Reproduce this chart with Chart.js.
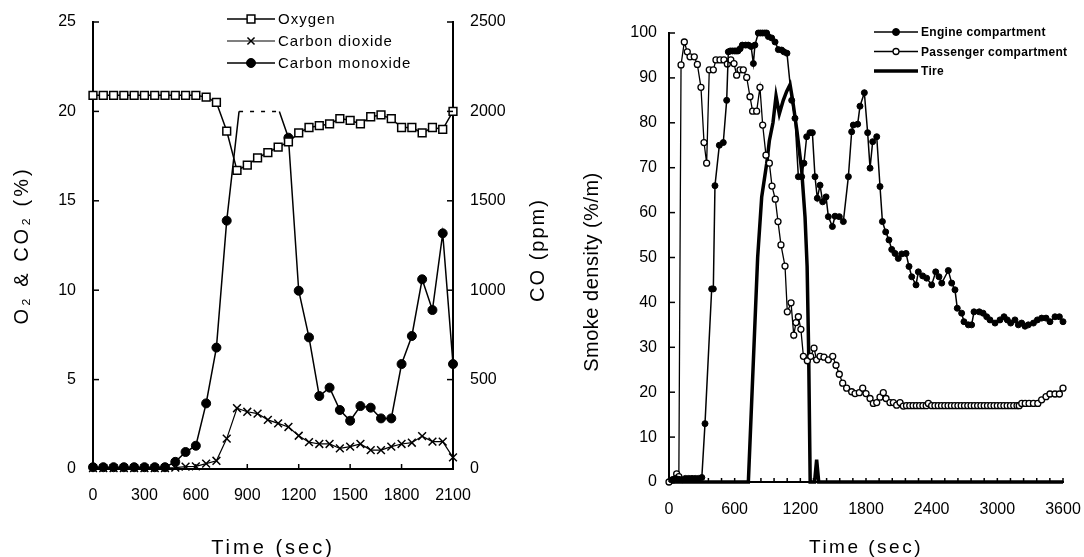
<!DOCTYPE html>
<html>
<head>
<meta charset="utf-8">
<script src="https://cdn.jsdelivr.net/npm/chart.js@4.4.1/dist/chart.umd.min.js"></script>
<style>
    body { margin: 0; background: #fff; }
    canvas { position: absolute; top: 0; }
    #gasChart { left: 0; }
    #smokeChart { left: 560px; }
</style>
</head>
<body>
<canvas id="gasChart" width="560" height="557"></canvas>
<canvas id="smokeChart" width="524" height="557"></canvas>
<script>
// left panel - gas concentrations, one reading per minute
const gasTime = [0, 60, 120, 180, 240, 300, 360, 420, 480, 540, 600, 660, 720, 780, 840, 900, 960, 1020,
    1080, 1140, 1200, 1260, 1320, 1380, 1440, 1500, 1560, 1620, 1680, 1740, 1800, 1860, 1920, 1980, 2040, 2100];
const oxygen = [20.9, 20.9, 20.9, 20.9, 20.9, 20.9, 20.9, 20.9, 20.9, 20.9, 20.9, 20.8, 20.5, 18.9, 16.7, 17.0, 17.4, 17.7,
    18.0, 18.3, 18.8, 19.1, 19.2, 19.3, 19.6, 19.5, 19.3, 19.7, 19.8, 19.6, 19.1, 19.1, 18.8, 19.1, 19.0, 20.0];
const carbonDioxide = [0.05, 0.05, 0.05, 0.05, 0.05, 0.05, 0.05, 0.05, 0.08, 0.13, 0.15, 0.3, 0.46, 1.7, 3.4, 3.2, 3.1, 2.75,
    2.55, 2.35, 1.86, 1.5, 1.4, 1.4, 1.15, 1.25, 1.4, 1.06, 1.06, 1.25, 1.4, 1.47, 1.84, 1.53, 1.53, 0.65];
// CO went over the analyser range between ~850 and ~1090 s
const coTime = [0, 60, 120, 180, 240, 300, 360, 420, 480, 540, 600, 660, 720, 780, 852, 1087, 1140,
    1200, 1260, 1320, 1380, 1440, 1500, 1560, 1620, 1680, 1740, 1800, 1860, 1920, 1980, 2040, 2100];
const carbonMonoxide = [10, 10, 10, 10, 10, 10, 10, 10, 40, 95, 130, 367, 679, 1389, 2000, 2000, 1853,
    997, 736, 408, 455, 330, 270, 352, 343, 283, 283, 587, 744, 1061, 889, 1318, 587];
const coLimit = 2000;

// right panel - smoke density
const engineTime = [30, 60, 90, 120, 150, 180, 210, 240, 270, 300, 329, 390, 405, 420, 460, 496, 527, 542, 560, 580,
    600, 615, 630, 650, 670, 700, 725, 750, 771, 785, 816, 835, 855, 875, 892, 908, 938, 969, 999, 1029,
    1050, 1078, 1121, 1151, 1182, 1212, 1233, 1258, 1288, 1310, 1334, 1355, 1380, 1404, 1435, 1456, 1493, 1517, 1556, 1593,
    1639, 1669, 1684, 1724, 1745, 1785, 1815, 1837, 1861, 1898, 1928, 1950, 1980, 2010, 2035, 2065, 2095, 2126, 2166, 2193,
    2218, 2257, 2278, 2318, 2354, 2400, 2437, 2467, 2492, 2552, 2583, 2613, 2634, 2674, 2695, 2735, 2765, 2787, 2835, 2870,
    2903, 2933, 2979, 3024, 3061, 3091, 3122, 3161, 3192, 3222, 3253, 3283, 3330, 3366, 3405, 3445, 3481, 3527, 3567, 3600];
const engineSmoke = [0.5, 0.8, 0.6, 0.5, 0.8, 0.8, 0.8, 0.8, 0.8, 1, 13, 43, 43, 66, 75, 75.6, 85, 95.8, 96, 96,
    96, 96, 96, 96.5, 97.3, 97.3, 97.3, 97, 93.2, 97.3, 100, 100, 100, 100, 100, 99.2, 98.9, 98, 96.3, 96.2,
    95.8, 95.5, 85, 81, 68, 68, 71, 76.9, 77.8, 77.8, 68, 63.2, 66.1, 62.4, 63.5, 59.1, 56.9, 59.2, 59.1, 58,
    68, 78, 79.5, 79.7, 83.7, 86.7, 77.8, 69.9, 75.8, 76.9, 65.8, 58, 55.7, 53.9, 51.8, 50.9, 49.8, 50.8, 50.9, 48,
    45.7, 43.9, 46.8, 45.9, 45.4, 43.9, 46.8, 45.7, 44.3, 47.1, 44.3, 42.8, 38.7, 37.6, 35.7, 35, 35, 37.9, 37.9, 37.6,
    36.8, 36.1, 35.4, 36.1, 36.8, 36.1, 35.4, 36.1, 35, 35.4, 34.7, 35, 35.4, 36.1, 36.5, 36.5, 35.7, 36.8, 36.8, 35.7];
const passengerTime = [0, 40, 70, 90, 110, 140, 167, 192, 231, 259, 292, 320, 344, 368, 405, 429, 466, 502, 533, 565,
    594, 618, 649, 679, 710, 740, 764, 801, 831, 856, 886, 917, 941, 971, 996, 1023, 1060, 1081, 1115, 1140,
    1160, 1182, 1205, 1228, 1264, 1295, 1325, 1349, 1380, 1416, 1456, 1496, 1526, 1556, 1587, 1623, 1669, 1700, 1739, 1770,
    1800, 1837, 1867, 1898, 1928, 1958, 1983, 2019, 2050, 2080, 2111, 2141, 2170, 2200, 2230, 2260, 2290, 2320, 2350, 2370,
    2400, 2430, 2460, 2490, 2520, 2550, 2580, 2610, 2640, 2670, 2700, 2730, 2760, 2790, 2820, 2850, 2880, 2910, 2940, 2970,
    3000, 3030, 3060, 3090, 3120, 3150, 3180, 3200, 3223, 3255, 3290, 3330, 3370, 3405, 3445, 3481, 3527, 3567, 3600];
const passengerSmoke = [0, 0.5, 1.8, 1.2, 92.9, 98, 95.8, 94.7, 94.7, 93, 87.9, 75.6, 71, 91.8, 91.8, 94, 94, 94, 93.1, 94,
    93.2, 90.6, 91.8, 91.8, 90.1, 85.8, 82.6, 82.6, 87.9, 79.5, 72.8, 71, 65.9, 63, 58, 52.8, 48.1, 37.9, 39.9, 32.7,
    35.5, 36.8, 34, 28, 27, 28, 29.8, 27.2, 28, 27.8, 27.2, 28, 26, 24, 22, 20.9, 20.1, 19.7, 19.9, 20.9,
    19.7, 18.6, 17.5, 17.7, 18.9, 19.9, 18.6, 17.7, 17.7, 17.1, 17.7, 16.9, 17, 17, 17, 17, 17, 17, 17, 17.5,
    17, 17, 17, 17, 17, 17, 17, 17, 17, 17, 17, 17, 17, 17, 17, 17, 17, 17, 17, 17,
    17, 17, 17, 17, 17, 17, 17, 17, 17.5, 17.5, 17.5, 17.5, 17.5, 18.3, 19, 19.6, 19.6, 19.6, 20.9];
const tireTime = [0, 725, 810, 847, 893, 917, 950, 978, 1008, 1044, 1075, 1106, 1130, 1170, 1212, 1243, 1262, 1276, 1290,
    1330, 1349, 1368, 3600];
const tireSmoke = [0, 0, 50, 63.5, 71, 76, 80, 86, 82, 85, 87, 88.5, 85, 78, 69.5, 59, 48, 29, 0,
    0, 5, 0, 0];

const FONT = "'Liberation Sans', Arial, Helvetica, sans-serif";
Chart.defaults.font.family = FONT;
Chart.defaults.color = '#000';

const toPoints = (xs, ys) => xs.map((x, i) => ({ x: x, y: ys[i] }));

// short tick marks pointing into the plot, like the printed figure
const innerTicks = (lengths) => ({
    id: 'innerTicks',
    afterDraw(chart) {
        const { ctx, chartArea } = chart;
        ctx.save();
        ctx.strokeStyle = '#000';
        ctx.lineWidth = 1.5;
        Object.keys(lengths).forEach(id => {
            const scale = chart.scales[id];
            const len = lengths[id];
            scale.ticks.forEach((t, i) => {
                const p = scale.getPixelForTick(i);
                ctx.beginPath();
                if (scale.isHorizontal()) {
                    ctx.moveTo(p, chartArea.bottom);
                    ctx.lineTo(p, chartArea.bottom - len);
                } else if (scale.position === 'left') {
                    ctx.moveTo(chartArea.left, p);
                    ctx.lineTo(chartArea.left + len, p);
                } else {
                    ctx.moveTo(chartArea.right, p);
                    ctx.lineTo(chartArea.right - len, p);
                }
                ctx.stroke();
            });
        });
        ctx.restore();
    }
});

// axis titles (the right one reads bottom to top, chart.js would turn it the other way)
const axisTitles = (items) => ({
    id: 'axisTitles',
    afterDraw(chart) {
        const { ctx, chartArea } = chart;
        items.forEach(it => {
            const x = it.x === 'mid' ? (chartArea.left + chartArea.right) / 2 : it.x;
            const y = it.y === 'mid' ? (chartArea.top + chartArea.bottom) / 2 : it.y;
            ctx.save();
            ctx.translate(x, y);
            if (it.rotate) ctx.rotate(-Math.PI / 2);
            ctx.font = it.font;
            ctx.letterSpacing = it.spacing + 'px';
            ctx.fillStyle = '#000';
            ctx.textAlign = 'center';
            ctx.textBaseline = 'middle';
            ctx.fillText(it.text, 0, 0);
            ctx.restore();
        });
    }
});

// stacked legend inside the plot
const stackedLegend = (o) => ({
    id: 'stackedLegend',
    afterDraw(chart) {
        const { ctx } = chart;
        chart.data.datasets.forEach((ds, i) => {
            const y = o.y + i * o.row;
            ctx.save();
            ctx.strokeStyle = '#000';
            ctx.lineWidth = ds.borderWidth;
            ctx.beginPath();
            ctx.moveTo(o.x, y);
            ctx.lineTo(o.x + o.line, y);
            ctx.stroke();
            if (ds.pointRadius) {
                ctx.fillStyle = ds.pointBackgroundColor;
                ctx.lineWidth = ds.pointBorderWidth;
                Chart.helpers.drawPoint(ctx, {
                    pointStyle: ds.pointStyle, radius: ds.legendRadius || 4, borderWidth: ds.pointBorderWidth, rotation: 0
                }, o.x + o.line / 2, y);
            }
            ctx.font = o.font;
            ctx.letterSpacing = o.spacing + 'px';
            ctx.fillStyle = '#000';
            ctx.textBaseline = 'middle';
            ctx.fillText(ds.label, o.x + o.line + 3, y + 1);
            ctx.restore();
        });
    }
});

// pin the axis boxes so the plot areas land where the figure has them
const fixSize = (size) => (scale) => {
    if (scale.isHorizontal()) scale.height = size; else scale.width = size;
    scale.paddingLeft = scale.paddingRight = scale.paddingTop = scale.paddingBottom = 0;
};

const axisBorder = { display: true, width: 2, color: '#000' };
const noGrid = { display: false, drawTicks: false };
const plainNumber = { useGrouping: false };

const gasChart = new Chart(document.getElementById('gasChart'), {
    type: 'line',
    data: {
        datasets: [{
            label: 'Oxygen',
            data: toPoints(gasTime, oxygen),
            yAxisID: 'y',
            borderColor: '#000', borderWidth: 1.5,
            pointStyle: 'rect', pointRadius: 5.5, legendRadius: 5.5,
            pointBackgroundColor: '#fff', pointBorderColor: '#000', pointBorderWidth: 1.5,
            clip: false
        }, {
            label: 'Carbon dioxide',
            data: toPoints(gasTime, carbonDioxide),
            yAxisID: 'y',
            borderColor: '#000', borderWidth: 1.2,
            pointStyle: 'crossRot', pointRadius: 5.5, legendRadius: 5,
            pointBackgroundColor: '#000', pointBorderColor: '#000', pointBorderWidth: 1.5,
            clip: false
        }, {
            label: 'Carbon monoxide',
            data: toPoints(coTime, carbonMonoxide),
            yAxisID: 'y1',
            borderColor: '#000', borderWidth: 1.5,
            pointStyle: 'circle', legendRadius: 4.5,
            pointRadius: ctx => ctx.raw && ctx.raw.y >= coLimit ? 0 : 4.5,
            pointBackgroundColor: '#000', pointBorderColor: '#000', pointBorderWidth: 1,
            segment: {
                borderDash: ctx => (ctx.p0.parsed.y >= coLimit && ctx.p1.parsed.y >= coLimit) ? [4, 7] : undefined
            },
            clip: false
        }]
    },
    options: {
        responsive: false,
        animation: false,
        layout: { padding: { top: 22, left: 0, right: 0, bottom: 0 } },
        plugins: { legend: { display: false }, tooltip: { enabled: false } },
        scales: {
            x: {
                type: 'linear', min: 0, max: 2100,
                ticks: { stepSize: 300, padding: 17, maxRotation: 0, font: { size: 16 }, format: plainNumber },
                grid: noGrid, border: axisBorder,
                afterFit: fixSize(88)
            },
            y: {
                position: 'left', min: 0, max: 25,
                ticks: { stepSize: 5, padding: 17, font: { size: 16 } },
                grid: noGrid, border: axisBorder,
                afterFit: fixSize(93)
            },
            y1: {
                position: 'right', min: 0, max: 2500,
                ticks: { stepSize: 500, padding: 17, font: { size: 16 }, format: plainNumber },
                grid: noGrid, border: axisBorder,
                afterFit: fixSize(107)
            }
        }
    },
    plugins: [
        innerTicks({ x: 5, y: 6, y1: 6 }),
        axisTitles([
            { text: 'O₂ & CO₂ (%)', x: 22, y: 'mid', rotate: true, font: '20px ' + FONT, spacing: 3 },
            { text: 'CO (ppm)', x: 538, y: 250, rotate: true, font: '20px ' + FONT, spacing: 2 },
            { text: 'Time (sec)', x: 'mid', y: 548, font: '20px ' + FONT, spacing: 3 }
        ]),
        stackedLegend({ x: 227, y: 19, row: 22, line: 48, font: '15px ' + FONT, spacing: 1 })
    ]
});

const smokeChart = new Chart(document.getElementById('smokeChart'), {
    type: 'line',
    data: {
        datasets: [{
            label: 'Engine compartment',
            data: toPoints(engineTime, engineSmoke),
            borderColor: '#000', borderWidth: 1.5,
            pointStyle: 'circle', pointRadius: 3, legendRadius: 3.5,
            pointBackgroundColor: '#000', pointBorderColor: '#000', pointBorderWidth: 1,
            clip: false
        }, {
            label: 'Passenger compartment',
            data: toPoints(passengerTime, passengerSmoke),
            borderColor: '#000', borderWidth: 1.3,
            pointStyle: 'circle', pointRadius: 3, legendRadius: 3,
            pointBackgroundColor: '#fff', pointBorderColor: '#000', pointBorderWidth: 1.3,
            clip: false
        }, {
            label: 'Tire',
            data: toPoints(tireTime, tireSmoke),
            borderColor: '#000', borderWidth: 3.5,
            pointRadius: 0,
            clip: false
        }]
    },
    options: {
        responsive: false,
        animation: false,
        layout: { padding: { top: 33, left: 0, right: 21, bottom: 0 } },
        plugins: { legend: { display: false }, tooltip: { enabled: false } },
        scales: {
            x: {
                type: 'linear', min: 0, max: 3600,
                ticks: {
                    stepSize: 120, autoSkip: false, padding: 18, maxRotation: 0, font: { size: 16 },
                    callback: v => v % 600 === 0 ? String(v) : ''
                },
                grid: noGrid, border: axisBorder,
                afterFit: fixSize(75)
            },
            y: {
                min: 0, max: 100,
                ticks: { stepSize: 10, padding: 12, font: { size: 16 } },
                grid: noGrid, border: axisBorder,
                afterFit: fixSize(109)
            }
        }
    },
    plugins: [
        innerTicks({ x: 4, y: 6 }),
        axisTitles([
            { text: 'Smoke density (%/m)', x: 32, y: 272, rotate: true, font: '20px ' + FONT, spacing: 0.5 },
            { text: 'Time (sec)', x: 'mid', y: 548, font: '19px ' + FONT, spacing: 2.5 }
        ]),
        stackedLegend({ x: 314, y: 32, row: 19.5, line: 44, font: 'bold 12px ' + FONT, spacing: 0.3 })
    ]
});
</script>
</body>
</html>
